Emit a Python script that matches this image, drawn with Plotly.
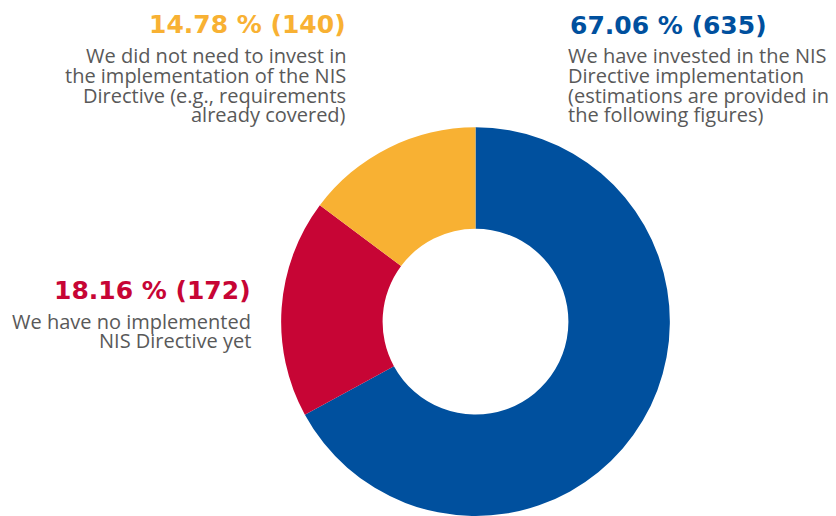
import plotly.graph_objects as go

# Data
labels = [
    "We have invested in the NIS Directive implementation (estimations are provided in the following figures)",
    "We have no implemented NIS Directive yet",
    "We did not need to invest in the implementation of the NIS Directive (e.g., requirements already covered)",
]
counts = [635, 172, 140]
percents = ["67.06", "18.16", "14.78"]
colors = ["#00509E", "#C70535", "#F8B133"]

W, H = 836, 516
GRAY = "#595959"
BODY_FONT = "Open Sans"
TITLE_FONT = "DejaVu Sans"

fig = go.Figure(
    go.Pie(
        values=counts,
        labels=labels,
        marker=dict(colors=colors, line=dict(width=0)),
        hole=0.478,
        sort=False,
        direction="clockwise",
        rotation=0,
        textinfo="none",
        hoverinfo="label+value+percent",
        showlegend=False,
        domain=dict(x=[280 / W, 671 / W], y=[0, (H - 127.3) / H]),
    )
)

def px(x):
    return x / W

def py(y):
    return 1 - y / H

# label blocks: (title, body lines, title x, side, title center y, body centers, color, body x)
blocks = [
    (f"{percents[2]} % ({counts[2]})",
     ["We did not need to invest in", "the implementation of the NIS",
      "Directive (e.g., requirements", "already covered)"],
     346, "right", 24.6, [55.5, 75.5, 95.3, 115.0], colors[2], 346),
    (f"{percents[0]} % ({counts[0]})",
     ["We have invested in the NIS", "Directive implementation",
      "(estimations are provided in", "the following figures)"],
     570, "left", 25.3, [56.0, 75.8, 95.5, 115.0], colors[0], 568),
    (f"{percents[1]} % ({counts[1]})",
     ["We have no implemented", "NIS Directive yet"],
     251, "right", 290.6, [321.0, 340.6], colors[1], 251),
]

ann = []
for title, lines, tx, side, ty, lys, col, bx in blocks:
    ann.append(dict(
        text=title, x=px(tx), y=py(ty), xref="paper", yref="paper",
        xanchor=side, yanchor="middle", showarrow=False, align=side,
        borderpad=0, borderwidth=0,
        font=dict(family=TITLE_FONT, size=25, color=col, weight="bold"),
    ))
    for ln, ly in zip(lines, lys):
        ann.append(dict(
            text=ln, x=px(bx), y=py(ly), xref="paper", yref="paper",
            xanchor=side, yanchor="middle", showarrow=False, align=side,
            borderpad=0, borderwidth=0,
            font=dict(family=BODY_FONT, size=20, color=GRAY),
        ))

fig.update_layout(
    width=W, height=H,
    margin=dict(l=0, r=0, t=0, b=0),
    paper_bgcolor="white", plot_bgcolor="white",
    annotations=ann,
)

fig.write_html(
    "out.html",
    config={"displayModeBar": False},
    post_script="document.body.style.margin='0';document.body.style.overflow='hidden';",
)
